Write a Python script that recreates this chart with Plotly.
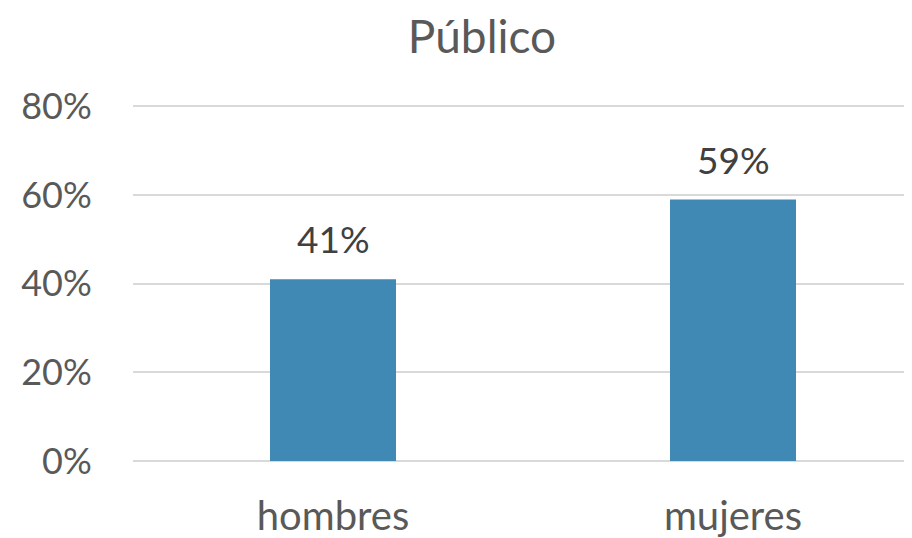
import plotly.graph_objects as go

categories = ["hombres", "mujeres"]
values = [41, 59]
labels = ["41%", "59%"]
tick_vals = [0, 20, 40, 60, 80]
tick_text = ["0%", "20%", "40%", "60%", "80%"]

# page body has an 8px default margin; figure sized to fill the rest
W, H = 904, 530

fig = go.Figure()
fig.add_trace(go.Bar(
    x=categories, y=values, width=0.315,
    marker=dict(color="#3F89B4", line=dict(width=0)),
    hoverinfo="x+y",
))
for c, v, t in zip(categories, values, labels):
    fig.add_annotation(x=c, y=v, text=t, showarrow=False, xanchor="center",
                       yanchor="bottom", yshift=16,
                       font=dict(family="Lato", size=37, color="#404040"))

fig.update_layout(
    width=W, height=H,
    margin=dict(l=125, r=0, t=94, b=77, autoexpand=False),
    paper_bgcolor="white", plot_bgcolor="white",
    showlegend=False,
    title=dict(text="Público", x=474/W, xref="container", xanchor="center",
               y=1 - 29/H, yref="container", yanchor="middle",
               font=dict(family="Lato", size=46, color="#595959")),
    font=dict(family="Lato", size=36, color="#595959"),
    xaxis=dict(range=[-0.5, 1.4475], showgrid=False, showline=False,
               ticks="outside", ticklen=20, tickcolor="rgba(0,0,0,0)",
               automargin=False,
               tickfont=dict(family="Lato", size=40, color="#595959")),
    yaxis=dict(range=[0, 81], tickvals=tick_vals, ticktext=tick_text,
               showgrid=True, gridcolor="#D9D9D9", gridwidth=2,
               zeroline=True, zerolinecolor="#D9D9D9", zerolinewidth=2,
               showline=False, ticks="outside", ticklen=33,
               tickcolor="rgba(0,0,0,0)", automargin=False,
               tickfont=dict(family="Lato", size=36, color="#595959")),
)
fig.write_html("out.html")
